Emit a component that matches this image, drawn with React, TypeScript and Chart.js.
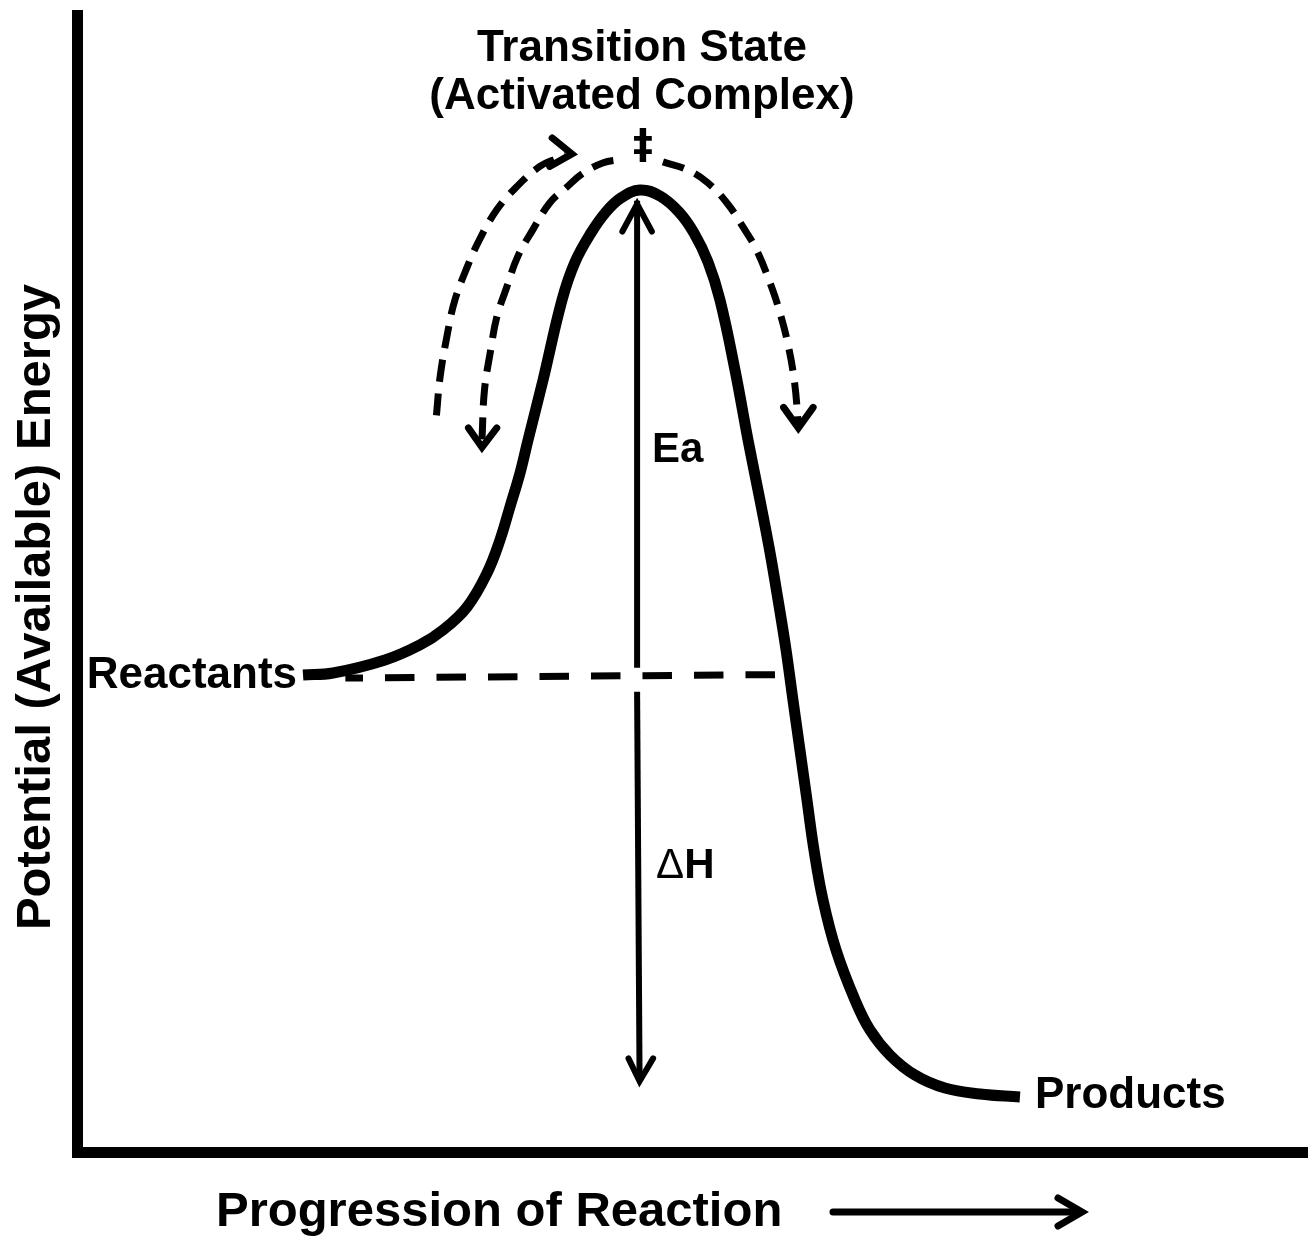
import React, { useEffect, useRef } from "react";
import { Chart, registerables } from "chart.js";

Chart.register(...registerables);

// ---------- data (reaction progress 0–100, potential energy 0–100) ----------
const progress = [
  18.36, 20.8, 25.02, 27.86, 29.73, 31.68, 33.31, 34.36, 35.17, 35.99,
  36.64, 37.86, 39.4, 40.46, 41.75, 42.97, 44.19, 45.73,
  47.36, 48.9, 50.12, 51.26, 52.23, 53.45, 54.51, 55.48, 56.26, 56.95,
  57.6, 58.16, 58.73, 59.3, 59.87, 60.6, 61.66, 63.2, 64.42, 66.04,
  68.07, 70.51, 73.35, 76.6,
];
const energy = [
  41.77, 41.94, 43.08, 44.4, 45.71, 47.72, 50.7, 53.59, 56.48, 59.46,
  62.35, 67.6, 74.61, 77.93, 80.47, 82.31, 83.54, 84.24,
  83.71, 82.31, 80.47, 77.93, 74.61, 68.48, 62.35, 57.09, 52.71, 48.34,
  43.96, 39.58, 35.2, 30.82, 26.44, 22.07, 17.69, 13.31, 10.68, 8.49,
  6.74, 5.6, 5.08, 4.82,
];

// dashed reactant energy level (drawn right to left)
const reactantLineProgress = [56.7, 21.8];
const reactantLineEnergy = [41.8, 41.5];

// Ea / ΔH double arrow
const eaProgress = [45.5, 45.5];
const eaEnergy = [83.3, 42.4];
const dhProgress = [45.5, 45.7];
const dhEnergy = [40.3, 6.5];
const eaHeadProgress = [44.3, 45.5, 46.7];
const eaHeadEnergy = [80.6, 83.0, 80.6];
const dhHeadProgress = [44.8, 45.7, 46.8];
const dhHeadEnergy = [8.2, 6.2, 8.2];

// dashed paths around the transition state
const climbProgress = [29.2, 29.5, 30.1, 30.7, 31.7, 32.7, 34.1, 35.7, 37.6, 39.0, 39.7];
const climbEnergy = [64.5, 67.9, 71.7, 74.6, 77.5, 79.9, 82.5, 84.5, 86.3, 87.0, 87.3];
const climbHeadProgress = [38.6, 40.2, 38.4];
const climbHeadEnergy = [88.8, 87.4, 86.3];

const fallBackProgress = [32.9, 33.1, 33.6, 34.1, 34.9, 35.8, 37.0, 38.4, 39.8, 41.1, 42.7, 44.1];
const fallBackEnergy = [62.4, 66.7, 70.2, 73.1, 75.7, 78.4, 80.7, 83.1, 84.5, 85.7, 86.6, 86.9];
const fallBackHeadProgress = [31.8, 32.9, 34.1];
const fallBackHeadEnergy = [63.4, 61.7, 63.4];

const crossOverProgress = [47.6, 49.6, 51.2, 52.8, 54.1, 55.2, 56.3, 57.1, 57.8, 58.3, 58.6];
const crossOverEnergy = [86.7, 86.0, 84.9, 83.1, 81.0, 79.0, 76.1, 73.5, 70.5, 67.3, 63.7];
const crossOverHeadProgress = [57.4, 58.6, 59.8];
const crossOverHeadEnergy = [65.2, 63.4, 65.2];

// texts
const transitionTitle = ["Transition State", "(Activated Complex)"];
const transitionMark = "‡";
const reactantsLabel = "Reactants";
const productsLabel = "Products";
const eaLabel = "Ea";
const dhLabel = ["Δ", "H"];
const xTitle = "Progression of Reaction";
const yTitle = "Potential (Available) Energy";

// ---------- helpers ----------
const FONT = '"Liberation Sans", Arial, Helvetica, sans-serif';
const pts = (xs: number[], ys: number[]) => xs.map((x, i) => ({ x, y: ys[i] }));
const ds = (xs: number[], ys: number[], extra: any = {}) => ({
  data: pts(xs, ys),
  borderColor: "#000",
  backgroundColor: "#000",
  pointRadius: 0,
  pointHoverRadius: 0,
  fill: false,
  tension: 0,
  ...extra,
});

const annotations = {
  id: "energyAnnotations",
  afterDraw(chart: any) {
    const ctx = chart.ctx as CanvasRenderingContext2D;
    const xs = chart.scales.x;
    const ys = chart.scales.y;
    const px = (v: number) => xs.getPixelForValue(v);
    const py = (v: number) => ys.getPixelForValue(v);
    ctx.save();
    ctx.fillStyle = "#000";
    ctx.strokeStyle = "#000";
    ctx.textBaseline = "alphabetic";

    // transition state
    let peak = 0;
    energy.forEach((e, i) => { if (e > energy[peak]) peak = i; });
    const pkX = px(progress[peak]);
    ctx.textAlign = "center";
    ctx.font = `bold 44px ${FONT}`;
    ctx.fillText(transitionTitle[0], pkX + 2, 61);
    ctx.fillText(transitionTitle[1], pkX + 2, 109);
    ctx.font = `bold 40px "DejaVu Sans", ${FONT}`;
    ctx.fillText(transitionMark, pkX + 3, 158);

    // reactants / products
    ctx.font = `bold 44px ${FONT}`;
    ctx.textAlign = "right";
    ctx.fillText(reactantsLabel, px(progress[0]) - 6, py(energy[0]) + 13);
    ctx.textAlign = "left";
    const last = progress.length - 1;
    ctx.fillText(productsLabel, px(progress[last]) + 15, py(energy[last]) + 11);

    // Ea and ΔH
    const arrowX = px(eaProgress[0]);
    ctx.font = `bold 42px ${FONT}`;
    ctx.fillText(eaLabel, arrowX + 15, 462);
    ctx.font = `42px ${FONT}`;
    ctx.fillText(dhLabel[0], arrowX + 19, 878);
    const dw = ctx.measureText(dhLabel[0]).width;
    ctx.font = `bold 42px ${FONT}`;
    ctx.fillText(dhLabel[1], arrowX + 19 + dw, 878);

    // x title + arrow
    ctx.font = `bold 49px ${FONT}`;
    ctx.textAlign = "left";
    ctx.fillText(xTitle, 216, 1226);
    ctx.lineWidth = 7;
    ctx.lineCap = "round";
    ctx.beginPath();
    ctx.moveTo(833, 1212);
    ctx.lineTo(1080, 1212);
    ctx.stroke();
    ctx.beginPath();
    ctx.moveTo(1058, 1198);
    ctx.lineTo(1082, 1212);
    ctx.lineTo(1058, 1226);
    ctx.stroke();

    // y title
    ctx.translate(50, 607);
    ctx.rotate(-Math.PI / 2);
    ctx.textAlign = "center";
    ctx.font = `bold 49px ${FONT}`;
    ctx.fillText(yTitle, 0, 0);
    ctx.restore();
  },
};

export default function App() {
  const ref = useRef<HTMLCanvasElement | null>(null);
  useEffect(() => {
    if (!ref.current) return;
    const dashArc = { borderWidth: 7, borderDash: [22, 12], tension: 0.4 };
    const head7 = { borderWidth: 7, borderJoinStyle: "miter", borderCapStyle: "round" };
    const head6 = { borderWidth: 6, borderJoinStyle: "miter", borderCapStyle: "round" };
    const chart = new Chart(ref.current, {
      type: "line",
      data: {
        datasets: [
          ds(progress, energy, { borderWidth: 11, tension: 0.4 }),
          ds(reactantLineProgress, reactantLineEnergy, { borderWidth: 7, borderDash: [29.5, 22] }),
          ds(eaProgress, eaEnergy, { borderWidth: 6 }),
          ds(dhProgress, dhEnergy, { borderWidth: 6 }),
          ds(eaHeadProgress, eaHeadEnergy, head6),
          ds(dhHeadProgress, dhHeadEnergy, head6),
          ds(climbProgress, climbEnergy, dashArc),
          ds(climbHeadProgress, climbHeadEnergy, head7),
          ds(fallBackProgress, fallBackEnergy, dashArc),
          ds(fallBackHeadProgress, fallBackHeadEnergy, head7),
          ds(crossOverProgress, crossOverEnergy, dashArc),
          ds(crossOverHeadProgress, crossOverHeadEnergy, head7),
        ] as any,
      },
      options: {
        animation: false,
        responsive: false,
        devicePixelRatio: 1,
        events: [],
        layout: { padding: { left: 77, right: 0, top: 15, bottom: 84 } },
        plugins: { legend: { display: false }, tooltip: { enabled: false } },
        scales: {
          x: {
            type: "linear",
            min: 0,
            max: 100,
            grid: { display: false, drawTicks: false },
            ticks: { display: false },
            border: { display: true, color: "#000", width: 11 },
          },
          y: {
            type: "linear",
            min: 0,
            max: 99.56,
            grid: { display: false, drawTicks: false },
            ticks: { display: false },
            border: { display: true, color: "#000", width: 11 },
          },
        },
      } as any,
      plugins: [annotations],
    });
    return () => chart.destroy();
  }, []);
  return (
    <div style={{ position: "absolute", left: 0, top: 0, width: 1308, height: 1236, background: "#fff" }}>
      <canvas ref={ref} width={1308} height={1236} style={{ display: "block" }} />
    </div>
  );
}
